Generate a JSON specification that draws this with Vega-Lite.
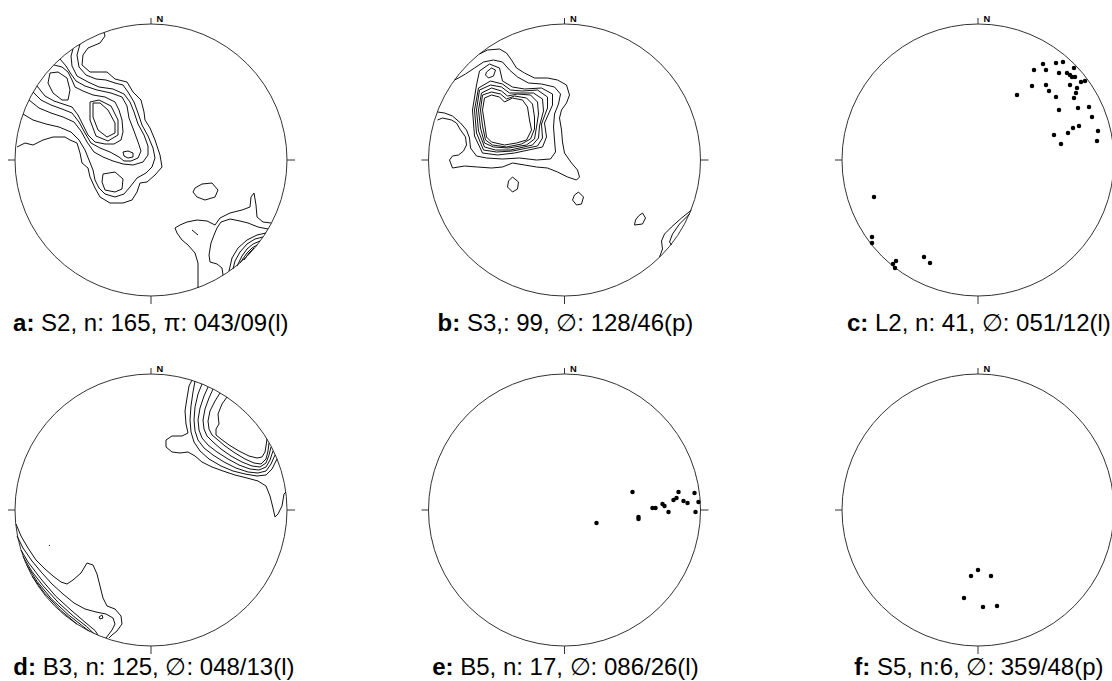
{
"$schema":"https://vega.github.io/schema/vega-lite/v6.json",
"padding":0,
"background":"white",
"config":{"view":{"stroke":null}},
"datasets":{
"a":[
{"l":1,"x":-134,"y":13},{"l":1,"x":-126,"y":17},{"l":1,"x":-118,"y":15},{"l":1,"x":-108,"y":20},{"l":1,"x":-98,"y":23},{"l":1,"x":-86,"y":23},{"l":1,"x":-81,"y":20},{"l":1,"x":-74,"y":17},{"l":1,"x":-71,"y":7},{"l":1,"x":-69,"y":-3},{"l":1,"x":-63,"y":-8},{"l":1,"x":-61,"y":-17},{"l":1,"x":-56,"y":-28},{"l":1,"x":-51,"y":-37},{"l":1,"x":-41,"y":-43},{"l":1,"x":-28,"y":-43},{"l":1,"x":-19,"y":-40},{"l":1,"x":-14,"y":-32},{"l":1,"x":-11,"y":-23},{"l":1,"x":-4,"y":-22},{"l":1,"x":4,"y":-15},{"l":1,"x":11,"y":-7},{"l":1,"x":9,"y":5},{"l":1,"x":4,"y":20},{"l":1,"x":-1,"y":32},{"l":1,"x":-6,"y":40},{"l":1,"x":-7,"y":48},{"l":1,"x":-10,"y":60},{"l":1,"x":-18,"y":68},{"l":1,"x":-24,"y":78},{"l":1,"x":-36,"y":81},{"l":1,"x":-44,"y":88},{"l":1,"x":-61,"y":88},{"l":1,"x":-69,"y":95},{"l":1,"x":-68,"y":105},{"l":1,"x":-63,"y":112},{"l":1,"x":-51,"y":117},{"l":1,"x":-46,"y":124},{"l":1,"x":-47,"y":127.6},
{"l":2,"x":-128,"y":46},{"l":2,"x":-118,"y":40},{"l":2,"x":-105,"y":36},{"l":2,"x":-92,"y":33},{"l":2,"x":-80,"y":28},{"l":2,"x":-72,"y":20},{"l":2,"x":-66,"y":10},{"l":2,"x":-62,"y":0},{"l":2,"x":-58,"y":-10},{"l":2,"x":-56,"y":-20},{"l":2,"x":-52,"y":-28},{"l":2,"x":-46,"y":-34},{"l":2,"x":-36,"y":-37},{"l":2,"x":-27,"y":-34},{"l":2,"x":-21,"y":-27},{"l":2,"x":-14,"y":-18},{"l":2,"x":-5,"y":-13},{"l":2,"x":1,"y":-7},{"l":2,"x":4,"y":2},{"l":2,"x":2,"y":12},{"l":2,"x":-3,"y":24},{"l":2,"x":-9,"y":35},{"l":2,"x":-13,"y":47},{"l":2,"x":-17,"y":58},{"l":2,"x":-23,"y":68},{"l":2,"x":-28,"y":75},{"l":2,"x":-36,"y":77},{"l":2,"x":-45,"y":80},{"l":2,"x":-55,"y":81},{"l":2,"x":-65,"y":85},{"l":2,"x":-72,"y":93},{"l":2,"x":-74,"y":105},{"l":2,"x":-71,"y":116},
{"l":3,"x":-122,"y":60},{"l":3,"x":-112,"y":52},{"l":3,"x":-100,"y":47},{"l":3,"x":-88,"y":43},{"l":3,"x":-77,"y":38},{"l":3,"x":-70,"y":29},{"l":3,"x":-64,"y":18},{"l":3,"x":-57,"y":8},{"l":3,"x":-48,"y":3},{"l":3,"x":-38,"y":-1},{"l":3,"x":-28,"y":-4},{"l":3,"x":-18,"y":-5},{"l":3,"x":-8,"y":-2},{"l":3,"x":-3,"y":5},{"l":3,"x":-3,"y":14},{"l":3,"x":-7,"y":25},{"l":3,"x":-13,"y":36},{"l":3,"x":-17,"y":48},{"l":3,"x":-21,"y":58},{"l":3,"x":-27,"y":66},{"l":3,"x":-38,"y":71},{"l":3,"x":-52,"y":73},{"l":3,"x":-63,"y":78},{"l":3,"x":-74,"y":84},{"l":3,"x":-79,"y":94},{"l":3,"x":-80,"y":104},{"l":3,"x":-78,"y":111},
{"l":4,"x":-118,"y":68},{"l":4,"x":-110,"y":60},{"l":4,"x":-100,"y":55},{"l":4,"x":-89,"y":51},{"l":4,"x":-79,"y":47},{"l":4,"x":-72,"y":38},{"l":4,"x":-66,"y":27},{"l":4,"x":-60,"y":17},{"l":4,"x":-51,"y":12},{"l":4,"x":-41,"y":8},{"l":4,"x":-32,"y":3},{"l":4,"x":-27,"y":-1},{"l":4,"x":-20,"y":-1},{"l":4,"x":-13,"y":2},{"l":4,"x":-10,"y":9},{"l":4,"x":-13,"y":18},{"l":4,"x":-17,"y":29},{"l":4,"x":-22,"y":42},{"l":4,"x":-24,"y":54},{"l":4,"x":-29,"y":63},{"l":4,"x":-40,"y":67},{"l":4,"x":-54,"y":70},{"l":4,"x":-66,"y":74},{"l":4,"x":-75,"y":79},{"l":4,"x":-80,"y":86},{"l":4,"x":-85,"y":94},{"l":4,"x":-91,"y":101},
{"l":5,"x":-114,"y":74},{"l":5,"x":-106,"y":64},{"l":5,"x":-97,"y":59},{"l":5,"x":-88,"y":56},{"l":5,"x":-79,"y":53},{"l":5,"x":-73,"y":45},{"l":5,"x":-68,"y":35},{"l":5,"x":-63,"y":25},{"l":5,"x":-56,"y":18},{"l":5,"x":-46,"y":16},{"l":5,"x":-37,"y":16},{"l":5,"x":-30,"y":20},{"l":5,"x":-28,"y":28},{"l":5,"x":-29,"y":40},{"l":5,"x":-32,"y":50},{"l":5,"x":-36,"y":58},{"l":5,"x":-46,"y":63},{"l":5,"x":-58,"y":65},{"l":5,"x":-68,"y":69},{"l":5,"x":-76,"y":73},{"l":5,"x":-79,"y":80},{"l":5,"x":-83,"y":88},{"l":5,"x":-89,"y":93},{"l":5,"x":-97,"y":95},
{"l":6,"x":-61,"y":58},{"l":6,"x":-52,"y":60},{"l":6,"x":-40,"y":54},{"l":6,"x":-33,"y":40},{"l":6,"x":-33,"y":25},{"l":6,"x":-43,"y":19},{"l":6,"x":-55,"y":24},{"l":6,"x":-61,"y":40},{"l":6,"x":-61,"y":58},
{"l":7,"x":-101,"y":87},{"l":7,"x":-93,"y":88},{"l":7,"x":-84,"y":82},{"l":7,"x":-81,"y":70},{"l":7,"x":-83,"y":60},{"l":7,"x":-89,"y":60},{"l":7,"x":-98,"y":67},{"l":7,"x":-103,"y":77},{"l":7,"x":-101,"y":87},
{"l":8,"x":-58,"y":57},{"l":8,"x":-51,"y":57},{"l":8,"x":-43,"y":50},{"l":8,"x":-36,"y":37},{"l":8,"x":-36,"y":27},{"l":8,"x":-44,"y":23},{"l":8,"x":-53,"y":30},{"l":8,"x":-58,"y":43},{"l":8,"x":-58,"y":57},
{"l":9,"x":-28,"y":8},{"l":9,"x":-23,"y":9},{"l":9,"x":-18,"y":7},{"l":9,"x":-18,"y":3},{"l":9,"x":-23,"y":2},{"l":9,"x":-27,"y":4},{"l":9,"x":-28,"y":8},
{"l":10,"x":-48,"y":-14},{"l":10,"x":-36,"y":-12},{"l":10,"x":-28,"y":-19},{"l":10,"x":-29,"y":-29},{"l":10,"x":-36,"y":-32},{"l":10,"x":-46,"y":-30},{"l":10,"x":-49,"y":-22},{"l":10,"x":-48,"y":-14},
{"l":11,"x":47,"y":-128},{"l":11,"x":47,"y":-115},{"l":11,"x":47,"y":-103},{"l":11,"x":44,"y":-93},{"l":11,"x":37,"y":-85},{"l":11,"x":31,"y":-80},{"l":11,"x":26,"y":-73},{"l":11,"x":24,"y":-68},{"l":11,"x":29,"y":-65},{"l":11,"x":36,"y":-62},{"l":11,"x":46,"y":-60},{"l":11,"x":56,"y":-61},{"l":11,"x":64,"y":-65},{"l":11,"x":69,"y":-58},{"l":11,"x":79,"y":-53},{"l":11,"x":91,"y":-50},{"l":11,"x":99,"y":-47},{"l":11,"x":100,"y":-37},{"l":11,"x":103,"y":-33},{"l":11,"x":105,"y":-45},{"l":11,"x":106,"y":-57},{"l":11,"x":112,"y":-62},{"l":11,"x":120,"y":-63},
{"l":12,"x":72,"y":-115},{"l":12,"x":71,"y":-108},{"l":12,"x":66,"y":-104},{"l":12,"x":59,"y":-102},{"l":12,"x":58,"y":-95},{"l":12,"x":60,"y":-83},{"l":12,"x":63,"y":-75},{"l":12,"x":66,"y":-68},{"l":12,"x":70,"y":-62},{"l":12,"x":79,"y":-59},{"l":12,"x":89,"y":-61},{"l":12,"x":97,"y":-63},{"l":12,"x":107,"y":-67},{"l":12,"x":117,"y":-69},
{"l":13,"x":115,"y":-73},{"l":13,"x":106,"y":-75},{"l":13,"x":96,"y":-80},{"l":13,"x":87,"y":-88},{"l":13,"x":81,"y":-98},{"l":13,"x":78,"y":-111},
{"l":14,"x":112,"y":-77},{"l":14,"x":104,"y":-79},{"l":14,"x":96,"y":-84},{"l":14,"x":89,"y":-92},{"l":14,"x":84,"y":-101},{"l":14,"x":82,"y":-109},
{"l":15,"x":109,"y":-81},{"l":15,"x":102,"y":-84},{"l":15,"x":96,"y":-89},{"l":15,"x":91,"y":-96},{"l":15,"x":86,"y":-106},
{"l":16,"x":106,"y":-85},{"l":16,"x":101,"y":-88},{"l":16,"x":96,"y":-93},{"l":16,"x":89,"y":-103},
{"l":17,"x":103,"y":-88},{"l":17,"x":98,"y":-93},{"l":17,"x":93,"y":-100},
{"l":18,"x":44,"y":-28},{"l":18,"x":51,"y":-24},{"l":18,"x":61,"y":-23},{"l":18,"x":67,"y":-30},{"l":18,"x":64,"y":-37},{"l":18,"x":54,"y":-40},{"l":18,"x":46,"y":-37},{"l":18,"x":42,"y":-32},{"l":18,"x":44,"y":-28},
{"l":19,"x":41,"y":-70},{"l":19,"x":47,"y":-75}
],
"b":[
{"l":1,"x":-127,"y":40},{"l":1,"x":-122,"y":42},{"l":1,"x":-113,"y":40},{"l":1,"x":-108,"y":37},{"l":1,"x":-104,"y":30},{"l":1,"x":-99,"y":23},{"l":1,"x":-98,"y":15},{"l":1,"x":-101,"y":9},{"l":1,"x":-106,"y":5},{"l":1,"x":-112,"y":4},{"l":1,"x":-115,"y":0},{"l":1,"x":-112,"y":-8},{"l":1,"x":-100,"y":-6},{"l":1,"x":-87,"y":-7},{"l":1,"x":-73,"y":-8},{"l":1,"x":-62,"y":-7},{"l":1,"x":-52,"y":-3},{"l":1,"x":-40,"y":-5},{"l":1,"x":-28,"y":-7},{"l":1,"x":-17,"y":-8},{"l":1,"x":-7,"y":-12},{"l":1,"x":3,"y":-17},{"l":1,"x":12,"y":-20},{"l":1,"x":15,"y":-17},{"l":1,"x":13,"y":-10},{"l":1,"x":7,"y":-3},{"l":1,"x":0,"y":7},{"l":1,"x":-2,"y":18},{"l":1,"x":-3,"y":30},{"l":1,"x":-5,"y":42},{"l":1,"x":-3,"y":50},{"l":1,"x":2,"y":57},{"l":1,"x":5,"y":65},{"l":1,"x":2,"y":75},{"l":1,"x":-7,"y":80},{"l":1,"x":-17,"y":82},{"l":1,"x":-30,"y":82},{"l":1,"x":-40,"y":87},{"l":1,"x":-48,"y":92},{"l":1,"x":-53,"y":100},{"l":1,"x":-58,"y":107},{"l":1,"x":-65,"y":111},{"l":1,"x":-77,"y":110},{"l":1,"x":-85,"y":106},
{"l":2,"x":-127,"y":48},{"l":2,"x":-120,"y":47},{"l":2,"x":-112,"y":44},{"l":2,"x":-104,"y":37},{"l":2,"x":-98,"y":30},{"l":2,"x":-95,"y":22},{"l":2,"x":-94,"y":12},{"l":2,"x":-88,"y":4},{"l":2,"x":-78,"y":2},{"l":2,"x":-62,"y":1},{"l":2,"x":-45,"y":2},{"l":2,"x":-28,"y":0},{"l":2,"x":-14,"y":1},{"l":2,"x":-9,"y":8},{"l":2,"x":-10,"y":20},{"l":2,"x":-11,"y":33},{"l":2,"x":-10,"y":46},{"l":2,"x":-6,"y":56},{"l":2,"x":-4,"y":66},{"l":2,"x":-10,"y":73},{"l":2,"x":-23,"y":76},{"l":2,"x":-36,"y":77},{"l":2,"x":-47,"y":83},{"l":2,"x":-55,"y":90},{"l":2,"x":-62,"y":98},{"l":2,"x":-71,"y":100},{"l":2,"x":-81,"y":98},{"l":2,"x":-90,"y":92},{"l":2,"x":-99,"y":86},{"l":2,"x":-106,"y":82},{"l":2,"x":-110,"y":80},
{"l":3,"x":-80,"y":62},{"l":3,"x":-73,"y":65},{"l":3,"x":-65,"y":63},{"l":3,"x":-60,"y":58},{"l":3,"x":-52,"y":62},{"l":3,"x":-42,"y":60},{"l":3,"x":-37,"y":53},{"l":3,"x":-35,"y":40},{"l":3,"x":-33,"y":30},{"l":3,"x":-38,"y":20},{"l":3,"x":-48,"y":17},{"l":3,"x":-60,"y":15},{"l":3,"x":-73,"y":18},{"l":3,"x":-78,"y":23},{"l":3,"x":-80,"y":37},{"l":3,"x":-82,"y":50},{"l":3,"x":-80,"y":62},
{"l":4,"x":-82,"y":65},{"l":4,"x":-73,"y":68},{"l":4,"x":-64,"y":66},{"l":4,"x":-58,"y":61},{"l":4,"x":-50,"y":64},{"l":4,"x":-38,"y":62},{"l":4,"x":-32,"y":56},{"l":4,"x":-30,"y":43},{"l":4,"x":-30,"y":31},{"l":4,"x":-34,"y":21},{"l":4,"x":-43,"y":16},{"l":4,"x":-58,"y":13},{"l":4,"x":-72,"y":15},{"l":4,"x":-79,"y":20},{"l":4,"x":-82,"y":34},{"l":4,"x":-84,"y":50},{"l":4,"x":-82,"y":65},
{"l":5,"x":-83,"y":67},{"l":5,"x":-73,"y":72},{"l":5,"x":-63,"y":69},{"l":5,"x":-57,"y":64},{"l":5,"x":-47,"y":66},{"l":5,"x":-34,"y":65},{"l":5,"x":-27,"y":58},{"l":5,"x":-26,"y":46},{"l":5,"x":-28,"y":33},{"l":5,"x":-30,"y":21},{"l":5,"x":-38,"y":15},{"l":5,"x":-56,"y":12},{"l":5,"x":-71,"y":13},{"l":5,"x":-80,"y":17},{"l":5,"x":-84,"y":32},{"l":5,"x":-86,"y":50},{"l":5,"x":-83,"y":67},
{"l":6,"x":-85,"y":70},{"l":6,"x":-74,"y":75},{"l":6,"x":-63,"y":73},{"l":6,"x":-55,"y":67},{"l":6,"x":-45,"y":67},{"l":6,"x":-31,"y":67},{"l":6,"x":-22,"y":61},{"l":6,"x":-21,"y":49},{"l":6,"x":-25,"y":34},{"l":6,"x":-26,"y":22},{"l":6,"x":-32,"y":15},{"l":6,"x":-54,"y":10},{"l":6,"x":-69,"y":10},{"l":6,"x":-80,"y":13},{"l":6,"x":-86,"y":29},{"l":6,"x":-88,"y":50},{"l":6,"x":-85,"y":70},
{"l":7,"x":-86,"y":72},{"l":7,"x":-74,"y":79},{"l":7,"x":-62,"y":76},{"l":7,"x":-54,"y":70},{"l":7,"x":-42,"y":69},{"l":7,"x":-27,"y":70},{"l":7,"x":-17,"y":63},{"l":7,"x":-17,"y":52},{"l":7,"x":-23,"y":36},{"l":7,"x":-22,"y":22},{"l":7,"x":-27,"y":14},{"l":7,"x":-52,"y":9},{"l":7,"x":-68,"y":8},{"l":7,"x":-81,"y":10},{"l":7,"x":-88,"y":27},{"l":7,"x":-90,"y":50},{"l":7,"x":-86,"y":72},
{"l":8,"x":-88,"y":75},{"l":8,"x":-85,"y":89},{"l":8,"x":-75,"y":96},{"l":8,"x":-65,"y":92},{"l":8,"x":-62,"y":79},{"l":8,"x":-52,"y":73},{"l":8,"x":-40,"y":71},{"l":8,"x":-23,"y":72},{"l":8,"x":-12,"y":66},{"l":8,"x":-12,"y":55},{"l":8,"x":-20,"y":37},{"l":8,"x":-18,"y":23},{"l":8,"x":-22,"y":13},{"l":8,"x":-50,"y":7},{"l":8,"x":-67,"y":5},{"l":8,"x":-82,"y":7},{"l":8,"x":-90,"y":24},{"l":8,"x":-92,"y":50},{"l":8,"x":-88,"y":75},
{"l":9,"x":-78,"y":88},{"l":9,"x":-73,"y":92},{"l":9,"x":-69,"y":90},{"l":9,"x":-71,"y":84},{"l":9,"x":-76,"y":82},{"l":9,"x":-79,"y":85},{"l":9,"x":-78,"y":88},
{"l":10,"x":-52,"y":-17},{"l":10,"x":-46,"y":-22},{"l":10,"x":-47,"y":-29},{"l":10,"x":-52,"y":-32},{"l":10,"x":-57,"y":-27},{"l":10,"x":-56,"y":-21},{"l":10,"x":-52,"y":-17},
{"l":11,"x":14,"y":-32},{"l":11,"x":19,"y":-37},{"l":11,"x":17,"y":-44},{"l":11,"x":12,"y":-45},{"l":11,"x":8,"y":-40},{"l":11,"x":10,"y":-35},{"l":11,"x":14,"y":-32},
{"l":12,"x":78,"y":-53},{"l":12,"x":81,"y":-58},{"l":12,"x":78,"y":-64},{"l":12,"x":70,"y":-65},{"l":12,"x":71,"y":-60},{"l":12,"x":74,"y":-56},{"l":12,"x":78,"y":-53},
{"l":13,"x":127,"y":-50},{"l":13,"x":117,"y":-58},{"l":13,"x":107,"y":-67},{"l":13,"x":100,"y":-74},{"l":13,"x":97,"y":-81},{"l":13,"x":98,"y":-89},{"l":13,"x":95,"y":-97},
{"l":14,"x":125,"y":-54},{"l":14,"x":115,"y":-64},{"l":14,"x":108,"y":-74},{"l":14,"x":105,"y":-82},{"l":14,"x":107,"y":-85}
],
"d":[
{"l":1,"x":41,"y":130},{"l":1,"x":38,"y":124},{"l":1,"x":36,"y":112},{"l":1,"x":34,"y":99},{"l":1,"x":35,"y":86},{"l":1,"x":37,"y":77},{"l":1,"x":31,"y":74},{"l":1,"x":21,"y":74},{"l":1,"x":15,"y":70},{"l":1,"x":15,"y":63},{"l":1,"x":21,"y":58},{"l":1,"x":29,"y":57},{"l":1,"x":37,"y":58},{"l":1,"x":44,"y":54},{"l":1,"x":51,"y":48},{"l":1,"x":61,"y":43},{"l":1,"x":72,"y":39},{"l":1,"x":84,"y":35},{"l":1,"x":96,"y":32},{"l":1,"x":107,"y":29},{"l":1,"x":115,"y":24},{"l":1,"x":119,"y":14},{"l":1,"x":122,"y":2},{"l":1,"x":124,"y":-7},{"l":1,"x":127,"y":-4},{"l":1,"x":131,"y":4},{"l":1,"x":133,"y":16},{"l":1,"x":135,"y":18},
{"l":2,"x":44,"y":129},{"l":2,"x":42,"y":118},{"l":2,"x":40,"y":104},{"l":2,"x":39,"y":90},{"l":2,"x":40,"y":78},{"l":2,"x":43,"y":68},{"l":2,"x":49,"y":59},{"l":2,"x":58,"y":51},{"l":2,"x":70,"y":44},{"l":2,"x":82,"y":39},{"l":2,"x":94,"y":36},{"l":2,"x":106,"y":34},{"l":2,"x":115,"y":35},{"l":2,"x":121,"y":41},{"l":2,"x":126,"y":51},
{"l":3,"x":51,"y":126},{"l":3,"x":47,"y":116},{"l":3,"x":44,"y":103},{"l":3,"x":43,"y":90},{"l":3,"x":44,"y":79},{"l":3,"x":47,"y":70},{"l":3,"x":53,"y":62},{"l":3,"x":62,"y":55},{"l":3,"x":73,"y":48},{"l":3,"x":85,"y":42},{"l":3,"x":97,"y":38},{"l":3,"x":107,"y":37},{"l":3,"x":115,"y":39},{"l":3,"x":120,"y":46},{"l":3,"x":124,"y":55},
{"l":4,"x":57,"y":123},{"l":4,"x":53,"y":114},{"l":4,"x":49,"y":102},{"l":4,"x":47,"y":90},{"l":4,"x":48,"y":80},{"l":4,"x":51,"y":72},{"l":4,"x":57,"y":65},{"l":4,"x":66,"y":58},{"l":4,"x":77,"y":51},{"l":4,"x":88,"y":45},{"l":4,"x":99,"y":41},{"l":4,"x":108,"y":40},{"l":4,"x":115,"y":43},{"l":4,"x":119,"y":50},{"l":4,"x":122,"y":59},
{"l":5,"x":62,"y":121},{"l":5,"x":58,"y":112},{"l":5,"x":54,"y":101},{"l":5,"x":52,"y":90},{"l":5,"x":53,"y":81},{"l":5,"x":56,"y":74},{"l":5,"x":62,"y":68},{"l":5,"x":70,"y":61},{"l":5,"x":80,"y":54},{"l":5,"x":91,"y":48},{"l":5,"x":101,"y":44},{"l":5,"x":109,"y":43},{"l":5,"x":115,"y":47},{"l":5,"x":118,"y":55},{"l":5,"x":120,"y":63},
{"l":6,"x":69,"y":117},{"l":6,"x":64,"y":109},{"l":6,"x":59,"y":99},{"l":6,"x":57,"y":89},{"l":6,"x":58,"y":81},{"l":6,"x":61,"y":75},{"l":6,"x":67,"y":70},{"l":6,"x":74,"y":64},{"l":6,"x":84,"y":57},{"l":6,"x":94,"y":51},{"l":6,"x":103,"y":47},{"l":6,"x":110,"y":46},{"l":6,"x":115,"y":51},{"l":6,"x":117,"y":59},{"l":6,"x":118,"y":67},
{"l":7,"x":76,"y":113},{"l":7,"x":71,"y":106},{"l":7,"x":67,"y":96},{"l":7,"x":68,"y":86},{"l":7,"x":65,"y":81},{"l":7,"x":65,"y":75},{"l":7,"x":70,"y":71},{"l":7,"x":78,"y":65},{"l":7,"x":88,"y":59},{"l":7,"x":98,"y":54},{"l":7,"x":106,"y":52},{"l":7,"x":111,"y":53},{"l":7,"x":114,"y":58},{"l":7,"x":115,"y":64},{"l":7,"x":116,"y":71},
{"l":8,"x":-135,"y":-14},{"l":8,"x":-130,"y":-26},{"l":8,"x":-123,"y":-38},{"l":8,"x":-115,"y":-50},{"l":8,"x":-106,"y":-59},{"l":8,"x":-98,"y":-66},{"l":8,"x":-90,"y":-72},{"l":8,"x":-84,"y":-74},{"l":8,"x":-78,"y":-70},{"l":8,"x":-70,"y":-63},{"l":8,"x":-64,"y":-53},{"l":8,"x":-58,"y":-55},{"l":8,"x":-54,"y":-64},{"l":8,"x":-51,"y":-76},{"l":8,"x":-48,"y":-88},{"l":8,"x":-44,"y":-96},{"l":8,"x":-36,"y":-99},{"l":8,"x":-30,"y":-106},{"l":8,"x":-29,"y":-114},{"l":8,"x":-34,"y":-121},{"l":8,"x":-39,"y":-125},{"l":8,"x":-42,"y":-128},
{"l":9,"x":-134,"y":-26},{"l":9,"x":-128,"y":-38},{"l":9,"x":-119,"y":-51},{"l":9,"x":-109,"y":-63},{"l":9,"x":-99,"y":-74},{"l":9,"x":-88,"y":-84},{"l":9,"x":-77,"y":-93},{"l":9,"x":-66,"y":-99},{"l":9,"x":-55,"y":-102},{"l":9,"x":-45,"y":-104},{"l":9,"x":-38,"y":-108},{"l":9,"x":-36,"y":-114},{"l":9,"x":-39,"y":-120},{"l":9,"x":-45,"y":-128},
{"l":10,"x":-130,"y":-40},{"l":10,"x":-123,"y":-52},{"l":10,"x":-110,"y":-69},{"l":10,"x":-95.5,"y":-86},{"l":10,"x":-79,"y":-101},{"l":10,"x":-65,"y":-113},{"l":10,"x":-56,"y":-120.5},{"l":10,"x":-53,"y":-125},
{"l":11,"x":-128,"y":-46.5},{"l":11,"x":-119.4,"y":-61},{"l":11,"x":-108,"y":-75.7},{"l":11,"x":-92.6,"y":-92.6},{"l":11,"x":-77.3,"y":-106.4},{"l":11,"x":-64.5,"y":-116.4},{"l":11,"x":-57.5,"y":-123.2},
{"l":12,"x":-124.2,"y":-55.3},{"l":12,"x":-114,"y":-71.3},{"l":12,"x":-99.2,"y":-89.3},{"l":12,"x":-82.2,"y":-105.2},{"l":12,"x":-69.3,"y":-115.3},{"l":12,"x":-61.7,"y":-121.2},
{"l":13,"x":-119,"y":-66},{"l":13,"x":-106.4,"y":-83.2},{"l":13,"x":-90.3,"y":-100.3},{"l":13,"x":-74.1,"y":-114.1},
{"l":14,"x":-52,"y":-107},{"l":14,"x":-49,"y":-105},{"l":14,"x":-48,"y":-108},{"l":14,"x":-51,"y":-109},{"l":14,"x":-52,"y":-107},
{"l":15,"x":-102,"y":-35},{"l":15,"x":-101,"y":-36}
],
"c":[
{"x":56,"y":90},{"x":65,"y":96},{"x":78,"y":97},{"x":85,"y":98},{"x":68,"y":90},{"x":81,"y":87},{"x":89,"y":87},{"x":92,"y":85},{"x":96,"y":92},{"x":94,"y":83},{"x":97,"y":83},{"x":103,"y":78},{"x":107,"y":79},{"x":54,"y":74},{"x":68,"y":75},{"x":71,"y":69},{"x":78,"y":63},{"x":92,"y":75},{"x":99,"y":72},{"x":98,"y":67},{"x":96,"y":62},{"x":39,"y":65},{"x":81,"y":50},{"x":100,"y":52},{"x":111,"y":53},{"x":114,"y":43},{"x":101,"y":34},{"x":95,"y":32},{"x":90,"y":27},{"x":76,"y":25},{"x":83,"y":16},{"x":120,"y":29},{"x":119,"y":19},
{"x":-104,"y":-37},{"x":-106,"y":-77},{"x":-106,"y":-83},{"x":-85,"y":-104},{"x":-82,"y":-101},{"x":-83,"y":-108},{"x":-54,"y":-97},{"x":-48,"y":-103}
],
"e":[
{"x":68,"y":18},{"x":32,"y":-13},{"x":74,"y":-7},{"x":74,"y":-9},{"x":88,"y":2},{"x":91,"y":2},{"x":98,"y":6},{"x":100,"y":4},{"x":104,"y":-2},{"x":109,"y":10},{"x":112,"y":12},{"x":114,"y":18},{"x":119,"y":9},{"x":123,"y":7},{"x":130,"y":17},{"x":134,"y":8},{"x":131,"y":-2}
],
"f":[
{"x":-7,"y":-66},{"x":0,"y":-60},{"x":13,"y":-66},{"x":-14,"y":-88},{"x":5,"y":-97},{"x":19,"y":-96}
]
},
"vconcat":[
{"hconcat":[
{"width":300,"height":335,"layer":[
{"data":{"values":[{}]},"mark":{"type":"point","shape":"circle","size":73984,"filled":false,"stroke":"#333","strokeWidth":1,"opacity":1},"encoding":{"x":{"datum":0,"type":"quantitative","scale":{"domain":[-151,149],"nice":false,"zero":false},"axis":null},"y":{"datum":0,"type":"quantitative","scale":{"domain":[-175,160],"nice":false,"zero":false},"axis":null}}},
{"data":{"values":[{}]},"mark":{"type":"rule","color":"#333","strokeWidth":1},"encoding":{"x":{"datum":0,"type":"quantitative","axis":null},"y":{"datum":136,"type":"quantitative","axis":null},"y2":{"datum":142}}},
{"data":{"values":[{}]},"mark":{"type":"rule","color":"#333","strokeWidth":1},"encoding":{"x":{"datum":0,"type":"quantitative","axis":null},"y":{"datum":-136,"type":"quantitative","axis":null},"y2":{"datum":-144}}},
{"data":{"values":[{}]},"mark":{"type":"rule","color":"#333","strokeWidth":1},"encoding":{"x":{"datum":-136,"type":"quantitative","axis":null},"x2":{"datum":-143},"y":{"datum":0,"type":"quantitative","axis":null}}},
{"data":{"values":[{}]},"mark":{"type":"rule","color":"#333","strokeWidth":1},"encoding":{"x":{"datum":136,"type":"quantitative","axis":null},"x2":{"datum":144},"y":{"datum":0,"type":"quantitative","axis":null}}},
{"data":{"values":[{}]},"mark":{"type":"text","text":"N","align":"left","baseline":"alphabetic","font":"Liberation Sans","fontWeight":"bold","fontSize":9.3,"color":"#000"},"encoding":{"x":{"datum":5.5,"type":"quantitative","axis":null},"y":{"datum":138.3,"type":"quantitative","axis":null}}},
{"data":{"name":"a"},"mark":{"type":"line","color":"#111","strokeWidth":1,"strokeJoin":"round"},"encoding":{"x":{"field":"x","type":"quantitative","axis":null},"y":{"field":"y","type":"quantitative","axis":null},"detail":{"field":"l","type":"nominal"},"order":{"value":null}}},
{"data":{"values":[{}]},"mark":{"type":"text","text":"a:","align":"right","baseline":"alphabetic","font":"Liberation Sans","fontWeight":"bold","fontSize":24,"color":"#000"},"encoding":{"x":{"datum":-116.6,"type":"quantitative","axis":null},"y":{"datum":-171,"type":"quantitative","axis":null}}},
{"data":{"values":[{}]},"mark":{"type":"text","text":"S2, n: 165, π: 043/09(l)","align":"left","baseline":"alphabetic","font":"Liberation Sans","fontSize":24,"color":"#000"},"encoding":{"x":{"datum":-109.9,"type":"quantitative","axis":null},"y":{"datum":-171,"type":"quantitative","axis":null}}}
]},
{"width":300,"height":335,"layer":[
{"data":{"values":[{}]},"mark":{"type":"point","shape":"circle","size":73984,"filled":false,"stroke":"#333","strokeWidth":1,"opacity":1},"encoding":{"x":{"datum":0,"type":"quantitative","scale":{"domain":[-151,149],"nice":false,"zero":false},"axis":null},"y":{"datum":0,"type":"quantitative","scale":{"domain":[-175,160],"nice":false,"zero":false},"axis":null}}},
{"data":{"values":[{}]},"mark":{"type":"rule","color":"#333","strokeWidth":1},"encoding":{"x":{"datum":0,"type":"quantitative","axis":null},"y":{"datum":136,"type":"quantitative","axis":null},"y2":{"datum":142}}},
{"data":{"values":[{}]},"mark":{"type":"rule","color":"#333","strokeWidth":1},"encoding":{"x":{"datum":0,"type":"quantitative","axis":null},"y":{"datum":-136,"type":"quantitative","axis":null},"y2":{"datum":-144}}},
{"data":{"values":[{}]},"mark":{"type":"rule","color":"#333","strokeWidth":1},"encoding":{"x":{"datum":-136,"type":"quantitative","axis":null},"x2":{"datum":-143},"y":{"datum":0,"type":"quantitative","axis":null}}},
{"data":{"values":[{}]},"mark":{"type":"rule","color":"#333","strokeWidth":1},"encoding":{"x":{"datum":136,"type":"quantitative","axis":null},"x2":{"datum":144},"y":{"datum":0,"type":"quantitative","axis":null}}},
{"data":{"values":[{}]},"mark":{"type":"text","text":"N","align":"left","baseline":"alphabetic","font":"Liberation Sans","fontWeight":"bold","fontSize":9.3,"color":"#000"},"encoding":{"x":{"datum":5.5,"type":"quantitative","axis":null},"y":{"datum":138.3,"type":"quantitative","axis":null}}},
{"data":{"name":"b"},"mark":{"type":"line","color":"#111","strokeWidth":1,"strokeJoin":"round"},"encoding":{"x":{"field":"x","type":"quantitative","axis":null},"y":{"field":"y","type":"quantitative","axis":null},"detail":{"field":"l","type":"nominal"},"order":{"value":null}}},
{"data":{"values":[{}]},"mark":{"type":"text","text":"b:","align":"right","baseline":"alphabetic","font":"Liberation Sans","fontWeight":"bold","fontSize":24,"color":"#000"},"encoding":{"x":{"datum":-104.3,"type":"quantitative","axis":null},"y":{"datum":-171,"type":"quantitative","axis":null}}},
{"data":{"values":[{}]},"mark":{"type":"text","text":"S3,: 99, ∅: 128/46(p)","align":"left","baseline":"alphabetic","font":"Liberation Sans","fontSize":24,"color":"#000"},"encoding":{"x":{"datum":-97.6,"type":"quantitative","axis":null},"y":{"datum":-171,"type":"quantitative","axis":null}}}
]},
{"width":300,"height":335,"layer":[
{"data":{"values":[{}]},"mark":{"type":"point","shape":"circle","size":73984,"filled":false,"stroke":"#333","strokeWidth":1,"opacity":1},"encoding":{"x":{"datum":0,"type":"quantitative","scale":{"domain":[-151,149],"nice":false,"zero":false},"axis":null},"y":{"datum":0,"type":"quantitative","scale":{"domain":[-175,160],"nice":false,"zero":false},"axis":null}}},
{"data":{"values":[{}]},"mark":{"type":"rule","color":"#333","strokeWidth":1},"encoding":{"x":{"datum":0,"type":"quantitative","axis":null},"y":{"datum":136,"type":"quantitative","axis":null},"y2":{"datum":142}}},
{"data":{"values":[{}]},"mark":{"type":"rule","color":"#333","strokeWidth":1},"encoding":{"x":{"datum":0,"type":"quantitative","axis":null},"y":{"datum":-136,"type":"quantitative","axis":null},"y2":{"datum":-144}}},
{"data":{"values":[{}]},"mark":{"type":"rule","color":"#333","strokeWidth":1},"encoding":{"x":{"datum":-136,"type":"quantitative","axis":null},"x2":{"datum":-143},"y":{"datum":0,"type":"quantitative","axis":null}}},
{"data":{"values":[{}]},"mark":{"type":"rule","color":"#333","strokeWidth":1},"encoding":{"x":{"datum":136,"type":"quantitative","axis":null},"x2":{"datum":144},"y":{"datum":0,"type":"quantitative","axis":null}}},
{"data":{"values":[{}]},"mark":{"type":"text","text":"N","align":"left","baseline":"alphabetic","font":"Liberation Sans","fontWeight":"bold","fontSize":9.3,"color":"#000"},"encoding":{"x":{"datum":5.5,"type":"quantitative","axis":null},"y":{"datum":138.3,"type":"quantitative","axis":null}}},
{"data":{"name":"c"},"mark":{"type":"point","shape":"circle","filled":true,"size":20,"color":"#000","opacity":1},"encoding":{"x":{"field":"x","type":"quantitative","axis":null},"y":{"field":"y","type":"quantitative","axis":null}}},
{"data":{"values":[{}]},"mark":{"type":"text","text":"c:","align":"right","baseline":"alphabetic","font":"Liberation Sans","fontWeight":"bold","fontSize":24,"color":"#000"},"encoding":{"x":{"datum":-109.7,"type":"quantitative","axis":null},"y":{"datum":-171,"type":"quantitative","axis":null}}},
{"data":{"values":[{}]},"mark":{"type":"text","text":"L2, n: 41, ∅: 051/12(l)","align":"left","baseline":"alphabetic","font":"Liberation Sans","fontSize":24,"color":"#000"},"encoding":{"x":{"datum":-103.0,"type":"quantitative","axis":null},"y":{"datum":-171,"type":"quantitative","axis":null}}}
]}
],"spacing":113.5},
{"hconcat":[
{"width":300,"height":335,"layer":[
{"data":{"values":[{}]},"mark":{"type":"point","shape":"circle","size":73984,"filled":false,"stroke":"#333","strokeWidth":1,"opacity":1},"encoding":{"x":{"datum":0,"type":"quantitative","scale":{"domain":[-151,149],"nice":false,"zero":false},"axis":null},"y":{"datum":0,"type":"quantitative","scale":{"domain":[-175,160],"nice":false,"zero":false},"axis":null}}},
{"data":{"values":[{}]},"mark":{"type":"rule","color":"#333","strokeWidth":1},"encoding":{"x":{"datum":0,"type":"quantitative","axis":null},"y":{"datum":136,"type":"quantitative","axis":null},"y2":{"datum":142}}},
{"data":{"values":[{}]},"mark":{"type":"rule","color":"#333","strokeWidth":1},"encoding":{"x":{"datum":0,"type":"quantitative","axis":null},"y":{"datum":-136,"type":"quantitative","axis":null},"y2":{"datum":-144}}},
{"data":{"values":[{}]},"mark":{"type":"rule","color":"#333","strokeWidth":1},"encoding":{"x":{"datum":-136,"type":"quantitative","axis":null},"x2":{"datum":-143},"y":{"datum":0,"type":"quantitative","axis":null}}},
{"data":{"values":[{}]},"mark":{"type":"rule","color":"#333","strokeWidth":1},"encoding":{"x":{"datum":136,"type":"quantitative","axis":null},"x2":{"datum":144},"y":{"datum":0,"type":"quantitative","axis":null}}},
{"data":{"values":[{}]},"mark":{"type":"text","text":"N","align":"left","baseline":"alphabetic","font":"Liberation Sans","fontWeight":"bold","fontSize":9.3,"color":"#000"},"encoding":{"x":{"datum":5.5,"type":"quantitative","axis":null},"y":{"datum":138.3,"type":"quantitative","axis":null}}},
{"data":{"name":"d"},"mark":{"type":"line","color":"#111","strokeWidth":1,"strokeJoin":"round"},"encoding":{"x":{"field":"x","type":"quantitative","axis":null},"y":{"field":"y","type":"quantitative","axis":null},"detail":{"field":"l","type":"nominal"},"order":{"value":null}}},
{"data":{"values":[{}]},"mark":{"type":"text","text":"d:","align":"right","baseline":"alphabetic","font":"Liberation Sans","fontWeight":"bold","fontSize":24,"color":"#000"},"encoding":{"x":{"datum":-115.0,"type":"quantitative","axis":null},"y":{"datum":-165,"type":"quantitative","axis":null}}},
{"data":{"values":[{}]},"mark":{"type":"text","text":"B3, n: 125, ∅: 048/13(l)","align":"left","baseline":"alphabetic","font":"Liberation Sans","fontSize":24,"color":"#000"},"encoding":{"x":{"datum":-108.3,"type":"quantitative","axis":null},"y":{"datum":-165,"type":"quantitative","axis":null}}}
]},
{"width":300,"height":335,"layer":[
{"data":{"values":[{}]},"mark":{"type":"point","shape":"circle","size":73984,"filled":false,"stroke":"#333","strokeWidth":1,"opacity":1},"encoding":{"x":{"datum":0,"type":"quantitative","scale":{"domain":[-151,149],"nice":false,"zero":false},"axis":null},"y":{"datum":0,"type":"quantitative","scale":{"domain":[-175,160],"nice":false,"zero":false},"axis":null}}},
{"data":{"values":[{}]},"mark":{"type":"rule","color":"#333","strokeWidth":1},"encoding":{"x":{"datum":0,"type":"quantitative","axis":null},"y":{"datum":136,"type":"quantitative","axis":null},"y2":{"datum":142}}},
{"data":{"values":[{}]},"mark":{"type":"rule","color":"#333","strokeWidth":1},"encoding":{"x":{"datum":0,"type":"quantitative","axis":null},"y":{"datum":-136,"type":"quantitative","axis":null},"y2":{"datum":-144}}},
{"data":{"values":[{}]},"mark":{"type":"rule","color":"#333","strokeWidth":1},"encoding":{"x":{"datum":-136,"type":"quantitative","axis":null},"x2":{"datum":-143},"y":{"datum":0,"type":"quantitative","axis":null}}},
{"data":{"values":[{}]},"mark":{"type":"rule","color":"#333","strokeWidth":1},"encoding":{"x":{"datum":136,"type":"quantitative","axis":null},"x2":{"datum":144},"y":{"datum":0,"type":"quantitative","axis":null}}},
{"data":{"values":[{}]},"mark":{"type":"text","text":"N","align":"left","baseline":"alphabetic","font":"Liberation Sans","fontWeight":"bold","fontSize":9.3,"color":"#000"},"encoding":{"x":{"datum":5.5,"type":"quantitative","axis":null},"y":{"datum":138.3,"type":"quantitative","axis":null}}},
{"data":{"name":"e"},"mark":{"type":"point","shape":"circle","filled":true,"size":20,"color":"#000","opacity":1},"encoding":{"x":{"field":"x","type":"quantitative","axis":null},"y":{"field":"y","type":"quantitative","axis":null}}},
{"data":{"values":[{}]},"mark":{"type":"text","text":"e:","align":"right","baseline":"alphabetic","font":"Liberation Sans","fontWeight":"bold","fontSize":24,"color":"#000"},"encoding":{"x":{"datum":-111.0,"type":"quantitative","axis":null},"y":{"datum":-165,"type":"quantitative","axis":null}}},
{"data":{"values":[{}]},"mark":{"type":"text","text":"B5, n: 17, ∅: 086/26(l)","align":"left","baseline":"alphabetic","font":"Liberation Sans","fontSize":24,"color":"#000"},"encoding":{"x":{"datum":-104.3,"type":"quantitative","axis":null},"y":{"datum":-165,"type":"quantitative","axis":null}}}
]},
{"width":300,"height":335,"layer":[
{"data":{"values":[{}]},"mark":{"type":"point","shape":"circle","size":73984,"filled":false,"stroke":"#333","strokeWidth":1,"opacity":1},"encoding":{"x":{"datum":0,"type":"quantitative","scale":{"domain":[-151,149],"nice":false,"zero":false},"axis":null},"y":{"datum":0,"type":"quantitative","scale":{"domain":[-175,160],"nice":false,"zero":false},"axis":null}}},
{"data":{"values":[{}]},"mark":{"type":"rule","color":"#333","strokeWidth":1},"encoding":{"x":{"datum":0,"type":"quantitative","axis":null},"y":{"datum":136,"type":"quantitative","axis":null},"y2":{"datum":142}}},
{"data":{"values":[{}]},"mark":{"type":"rule","color":"#333","strokeWidth":1},"encoding":{"x":{"datum":0,"type":"quantitative","axis":null},"y":{"datum":-136,"type":"quantitative","axis":null},"y2":{"datum":-144}}},
{"data":{"values":[{}]},"mark":{"type":"rule","color":"#333","strokeWidth":1},"encoding":{"x":{"datum":-136,"type":"quantitative","axis":null},"x2":{"datum":-143},"y":{"datum":0,"type":"quantitative","axis":null}}},
{"data":{"values":[{}]},"mark":{"type":"rule","color":"#333","strokeWidth":1},"encoding":{"x":{"datum":136,"type":"quantitative","axis":null},"x2":{"datum":144},"y":{"datum":0,"type":"quantitative","axis":null}}},
{"data":{"values":[{}]},"mark":{"type":"text","text":"N","align":"left","baseline":"alphabetic","font":"Liberation Sans","fontWeight":"bold","fontSize":9.3,"color":"#000"},"encoding":{"x":{"datum":5.5,"type":"quantitative","axis":null},"y":{"datum":138.3,"type":"quantitative","axis":null}}},
{"data":{"name":"f"},"mark":{"type":"point","shape":"circle","filled":true,"size":20,"color":"#000","opacity":1},"encoding":{"x":{"field":"x","type":"quantitative","axis":null},"y":{"field":"y","type":"quantitative","axis":null}}},
{"data":{"values":[{}]},"mark":{"type":"text","text":"f:","align":"right","baseline":"alphabetic","font":"Liberation Sans","fontWeight":"bold","fontSize":24,"color":"#000"},"encoding":{"x":{"datum":-107.7,"type":"quantitative","axis":null},"y":{"datum":-165,"type":"quantitative","axis":null}}},
{"data":{"values":[{}]},"mark":{"type":"text","text":"S5, n:6, ∅: 359/48(p)","align":"left","baseline":"alphabetic","font":"Liberation Sans","fontSize":24,"color":"#000"},"encoding":{"x":{"datum":-101.0,"type":"quantitative","axis":null},"y":{"datum":-165,"type":"quantitative","axis":null}}}
]}
],"spacing":113.5}
],
"spacing":14
}
